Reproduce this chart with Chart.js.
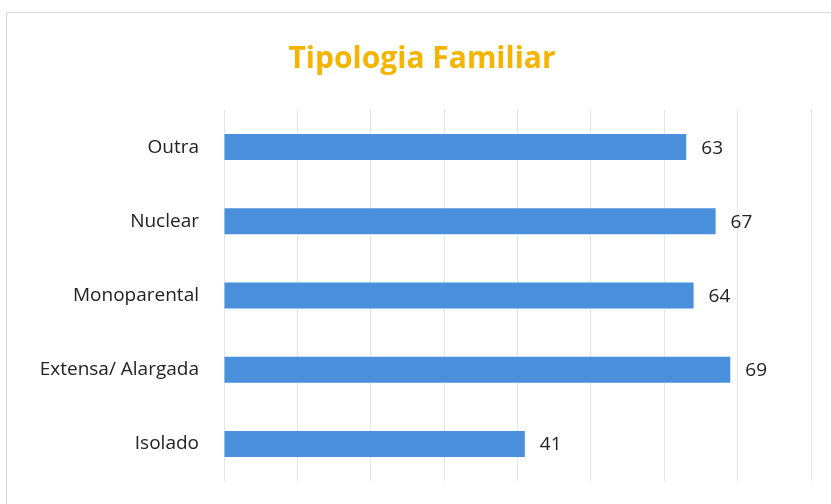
<!DOCTYPE html>
<html>
<head>
<meta charset="utf-8">
<script src="https://cdn.jsdelivr.net/npm/chart.js@4"></script>
<style>
  html, body { margin: 0; padding: 0; background: #fff; }
  #wrap { position: relative; width: 831px; height: 504px; }
  #frame { position: absolute; left: 6px; top: 12px; width: 840px; height: 520px;
           border: 1px solid #d9d9d9; pointer-events: none; }
</style>
</head>
<body>
<div id="wrap">
  <canvas id="tipologia" width="831" height="504"></canvas>
  <div id="frame"></div>
</div>
<script>
var categories = ['Outra', 'Nuclear', 'Monoparental', 'Extensa/ Alargada', 'Isolado'];
var values = [63, 67, 64, 69, 41];
var axisTicks = [0, 10, 20, 30, 40, 50, 60, 70, 80];

// value written just past the end of each bar
var barValues = {
  id: 'barValues',
  afterDatasetsDraw: function(chart) {
    var ctx = chart.ctx;
    var meta = chart.getDatasetMeta(0);
    ctx.save();
    ctx.font = '19px "Open Sans"';
    ctx.fillStyle = '#222';
    ctx.textBaseline = 'middle';
    meta.data.forEach(function(bar, i) {
      ctx.fillText(values[i], bar.x + 15, bar.y + 1);
    });
    ctx.restore();
  }
};

var ctx = document.getElementById('tipologia').getContext('2d');
var chart = new Chart(ctx, {
  type: 'bar',
  data: {
    labels: categories,
    datasets: [{
      data: values,
      backgroundColor: '#4a8fdc',
      barPercentage: 0.7,
      categoryPercentage: 0.5
    }]
  },
  options: {
    indexAxis: 'y',
    responsive: false,
    animation: false,
    layout: { padding: { left: 33, right: 20, top: 0, bottom: 23 } },
    plugins: {
      legend: { display: false },
      tooltip: { enabled: false },
      title: {
        display: true,
        text: 'Tipologia Familiar',
        color: '#f5b400',
        font: { family: '"Open Sans"', size: 30, weight: 'bold' },
        padding: { top: 41, bottom: 33 }
      }
    },
    scales: {
      x: {
        min: 0,
        max: 80,
        afterBuildTicks: function(scale) {
          scale.ticks = axisTicks.map(function(v) { return { value: v }; });
        },
        afterFit: function(scale) { scale.height = 0; },
        ticks: { display: false },
        grid: { color: '#e4e4e4', drawTicks: false },
        border: { display: false }
      },
      y: {
        afterFit: function(scale) {
          scale.width = 191;
          scale.paddingTop = 0;
          scale.paddingBottom = 0;
        },
        ticks: {
          color: '#222',
          padding: 17,
          font: { family: '"Open Sans"', size: 19 }
        },
        grid: { display: false },
        border: { display: false }
      }
    }
  },
  plugins: [barValues]
});
</script>
</body>
</html>
